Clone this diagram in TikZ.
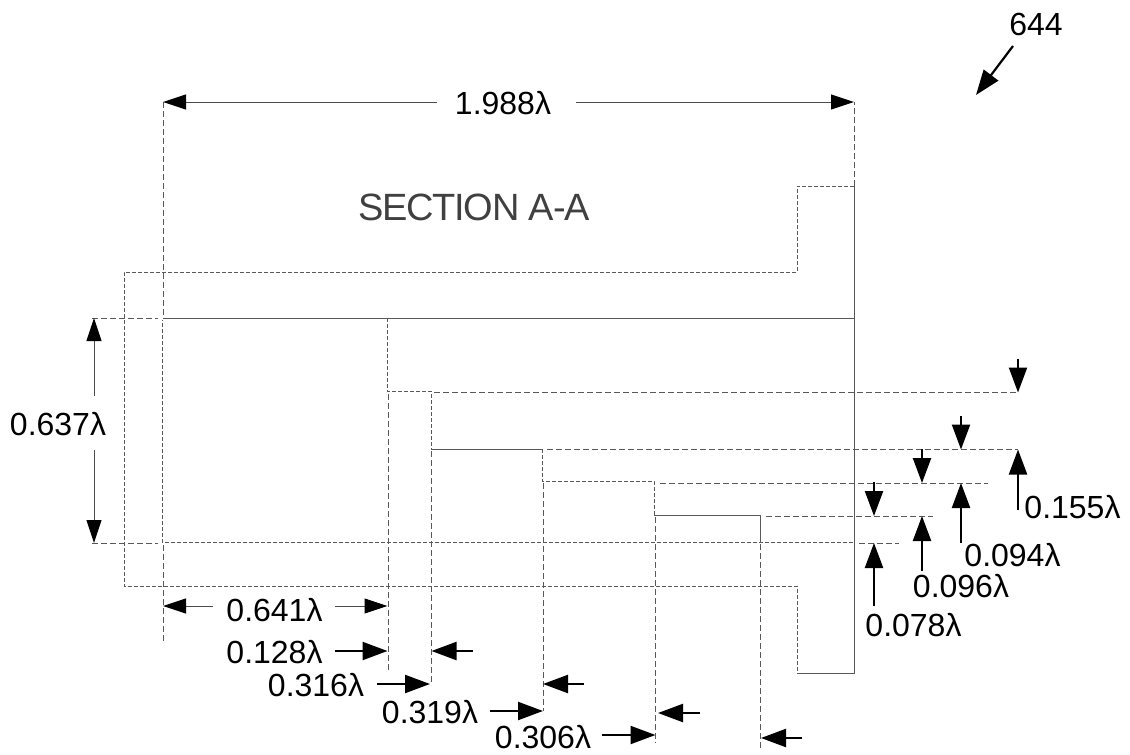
\documentclass[tikz,border=0pt]{standalone}
\usepackage{fontspec}
\setmainfont{Liberation Sans}
\usetikzlibrary{arrows.meta}
\tikzset{
  geo/.style={line width=1pt,draw=black!65},
  dsh/.style={geo,dash pattern=on 4pt off 2pt},
  dsl/.style={geo,dash pattern=on 6pt off 3pt},
  dimthin/.style={line width=1pt,draw=black!70,-{Triangle[length=23pt,width=15pt,fill=black,color=black]}},
  dimthick/.style={line width=2.2pt,draw=black,-{Triangle[length=25pt,width=18pt]}},
  lab/.style={inner sep=0pt,font=\fontsize{32}{32}\selectfont},
  seclab/.style={inner sep=0pt,text=black!75,font=\fontsize{38}{38}\selectfont}
}
\begin{document}
\begin{tikzpicture}[x=1pt,y=-1pt]
\useasboundingbox (0,0) rectangle (1130,755);
% body outline
\draw[dsh] (854,186) -- (797,186) -- (797,272) -- (124,272) -- (124,586) -- (797,586) -- (797,673);
\draw[geo] (797,673) -- (854,673) -- (854,186);
\draw[geo] (163,318) -- (854,318);
\draw[dsh] (387,318) -- (387,391) -- (431,391) -- (431,449);
\draw[geo] (431,449) -- (542,449);
\draw[dsh] (542,449) -- (542,481) -- (654,481) -- (654,515);
\draw[geo] (654,515) -- (760,515) -- (760,542);
\draw[dsh] (853,542) -- (162,542) -- (162,320);
% extension lines
\draw[dsl] (854,186) -- (854,102);
\draw[dsl] (163,102) -- (163,316);
\draw[dsl] (163,545) -- (163,642);
\draw[dsl] (92,318) -- (158,318);
\draw[dsl] (92,543) -- (158,543);
\draw[dsl] (434,392.5) -- (1018,392.5);
\draw[dsl] (547,449.5) -- (1018,449.5);
\draw[dsl] (660,483) -- (988,483);
\draw[dsl] (766,516) -- (933,516);
\draw[dsl] (859,543) -- (899,543);
\draw[dsl] (388,394) -- (388,670);
\draw[dsl] (431,451) -- (431,685);
\draw[dsl] (543,483) -- (543,711);
\draw[dsl] (655.5,517) -- (655.5,743);
\draw[dsl] (760.5,544) -- (760.5,750);
% labels
\node[lab] (n644) at (1036,24) {644};
\node[lab] (ntop) at (503,103) {1.988λ};
\node[seclab] (nsec) at (474,207) {\addfontfeature{LetterSpace=-3.2}SECTION A-A};
\node[lab] (n637) at (58,424) {0.637λ};
\node[lab] (n641) at (274.5,610) {0.641λ};
\node[lab] (n128) at (274.5,652) {0.128λ};
\node[lab] (n316) at (316,685) {0.316λ};
\node[lab] (n319) at (430,712) {0.319λ};
\node[lab] (n306) at (543,737) {0.306λ};
\node[lab] (n155) at (1072.5,507) {0.155λ};
\node[lab] (n094) at (1012.5,555) {0.094λ};
\node[lab] (n096) at (961,586) {0.096λ};
\node[lab] (n078) at (913.5,625) {0.078λ};
% reference arrow
\draw[dimthick] (1013,46) -- (976,95);
% thin dimensions
\draw[dimthin] (437,102) -- (163,102);
\draw[dimthin] (576,102) -- (854,102);
\draw[dimthin] (94,396) -- (94,318);
\draw[dimthin] (94,450) -- (94,543);
\draw[dimthin] (213,606) -- (163,606);
\draw[dimthin] (335,606) -- (387.5,606);
% thick horizontal dimensions
\draw[dimthick] (335,651) -- (387.5,651);
\draw[dimthick] (473,651) -- (431.5,651);
\draw[dimthick] (377,684) -- (430,684);
\draw[dimthick] (584,684) -- (543,684);
\draw[dimthick] (490,711) -- (543,711);
\draw[dimthick] (700,713) -- (658,713);
\draw[dimthick] (602,735) -- (655.5,735);
\draw[dimthick] (802,738) -- (761,738);
% thick vertical dimensions
\draw[dimthick] (1018,359) -- (1018,392.5);
\draw[dimthick] (1018,510) -- (1018,449.5);
\draw[dimthick] (961,416) -- (961,449.5);
\draw[dimthick] (961,543) -- (961,483);
\draw[dimthick] (922,449) -- (922,483);
\draw[dimthick] (922,571) -- (922,516);
\draw[dimthick] (874,482) -- (874,516);
\draw[dimthick] (874,606) -- (874,543);
\end{tikzpicture}
\end{document}
